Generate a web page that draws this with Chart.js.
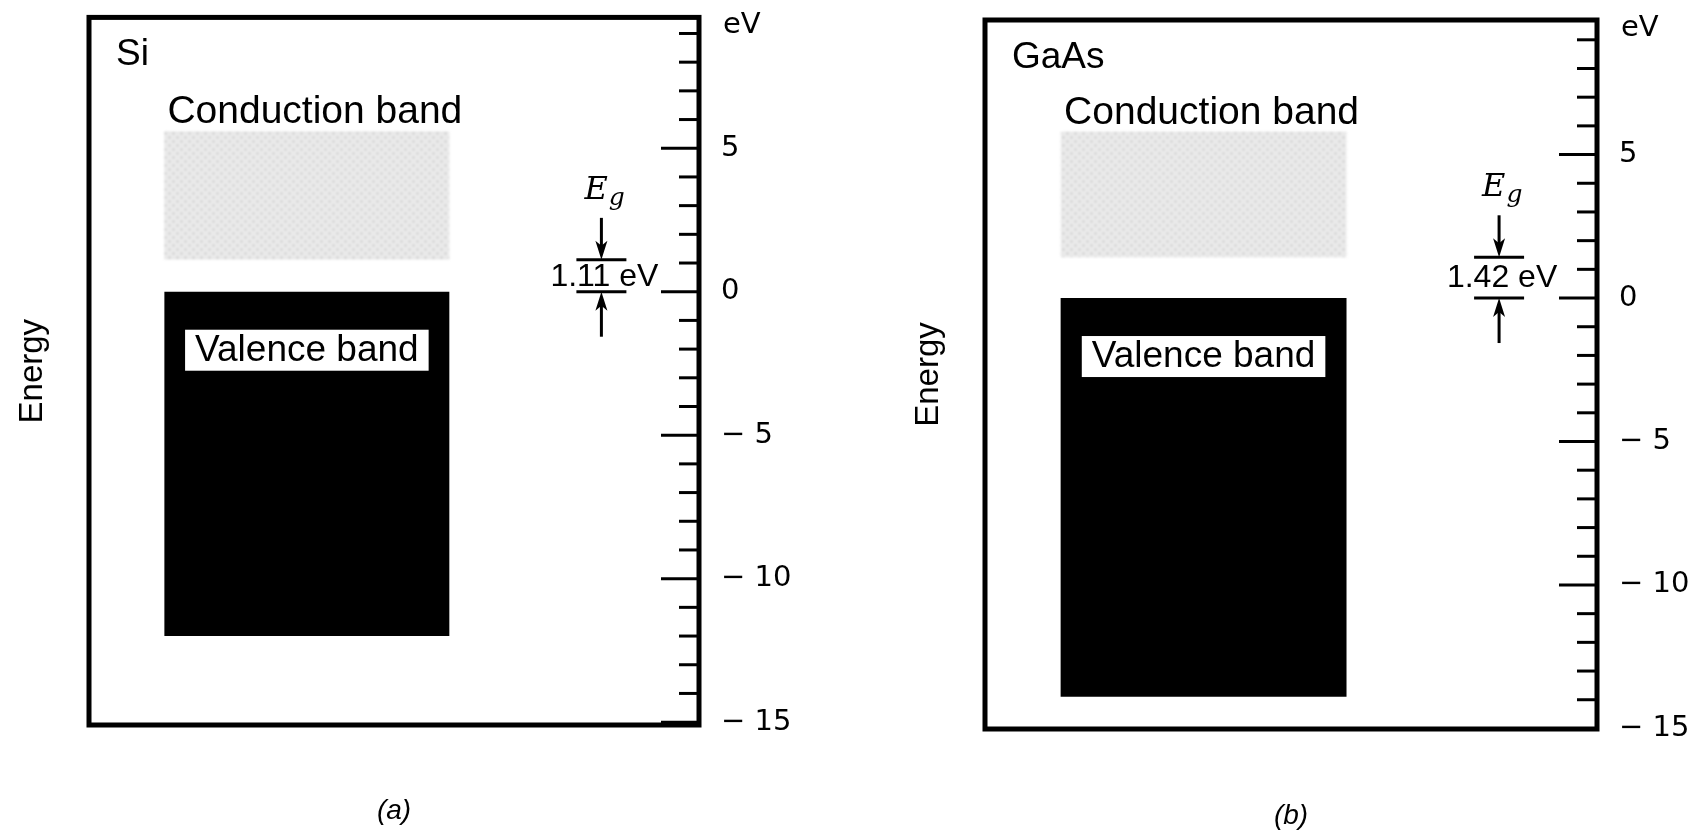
<!DOCTYPE html>
<html>
<head>
<meta charset="utf-8">
<script src="https://cdn.jsdelivr.net/npm/chart.js@4.4.1/dist/chart.umd.min.js"></script>
<style>
  body { margin: 0; background: #fff; }
  .wrap { display: flex; width: 1698px; height: 833px; }
  .panel { height: 833px; }
</style>
</head>
<body>
<div class="wrap">
  <div class="panel"><canvas id="graficoA" width="830" height="833"></canvas></div>
  <div class="panel"><canvas id="graficoB" width="868" height="833"></canvas></div>
</div>
<script>
//materiais e legendas
var materials = ['Si', 'GaAs'];
var captions = ['(a)', '(b)'];

//bandas em eV: [base, topo]
var conductionBand = [[1.11, 5.6], [1.42, 5.8]];
var valenceBand = [[-12.0, 0], [-13.9, 0]];
var energyGap = [1.11, 1.42];
var gapLabels = ['1.11 eV', '1.42 eV'];

//limites do eixo de energia e rótulos
var axisMin = [-15.1, -15.02];
var axisMax = [9.56, 9.69];
var labeledTicks = [-15, -10, -5, 0, 5];

//colunas do eixo x (a banda fica na coluna 2)
var nSlots = 7;
var bandSlot = 2;

//layout de cada painel (px)
var layouts = [
    { left: 89, right: 31, top: 13, bottom: 108, energyPad: 13, captionPad: 5 },
    { left: 155, right: 1, top: 20, bottom: 104, energyPad: 79, captionPad: 0 }
];

Chart.defaults.font.family = 'Liberation Sans';
Chart.defaults.color = '#000';

//textura clara da banda de condução
function haze(canvas) {
    var tile = document.createElement('canvas');
    tile.width = 8; tile.height = 8;
    var g = tile.getContext('2d');
    g.fillStyle = '#f1f1f1';
    g.fillRect(0, 0, 8, 8);
    g.fillStyle = '#d6d6d6';
    g.fillRect(0, 0, 3, 3);
    g.fillRect(4, 4, 3, 3);
    g.fillStyle = '#e6e6e6';
    g.fillRect(4, 0, 3, 3);
    g.fillRect(0, 4, 3, 3);
    return canvas.getContext('2d').createPattern(tile, 'repeat');
}

function seta(ctx, x, from, to) {
    var dir = to > from ? 1 : -1;
    ctx.beginPath();
    ctx.moveTo(x, from);
    ctx.lineTo(x, to - dir * 12);
    ctx.stroke();
    ctx.beginPath();
    ctx.moveTo(x, to);
    ctx.lineTo(x - 6, to - dir * 19);
    ctx.lineTo(x, to - dir * 14);
    ctx.lineTo(x + 6, to - dir * 19);
    ctx.closePath();
    ctx.fill();
}

//moldura, marcas internas e textos do diagrama
var bandPlugin = {
    id: 'bandDiagram',
    //banda de condução borrada como no original
    beforeDatasetDraw: function(chart, args) {
        if (args.index === 0) {
            chart.ctx.save();
            chart.ctx.filter = 'blur(1px)';
        }
    },
    afterDatasetDraw: function(chart, args) {
        if (args.index === 0) chart.ctx.restore();
    },
    afterDraw: function(chart, args, opts) {
        var ctx = chart.ctx;
        var area = chart.chartArea;
        var y = chart.scales.y;
        var i = opts.index;
        ctx.save();
        ctx.strokeStyle = '#000';
        ctx.fillStyle = '#000';

        //moldura
        ctx.lineWidth = 5;
        ctx.strokeRect(area.left, area.top, area.right - area.left, area.bottom - area.top);

        //marcas do eixo para dentro
        ctx.lineWidth = 3;
        y.ticks.forEach(function(t) {
            var py = y.getPixelForValue(t.value);
            var len = labeledTicks.indexOf(t.value) >= 0 ? 38 : 20;
            ctx.beginPath();
            ctx.moveTo(area.right, py);
            ctx.lineTo(area.right - len, py);
            ctx.stroke();
        });

        //unidade
        ctx.font = '29px "DejaVu Sans"';
        ctx.textAlign = 'left';
        ctx.textBaseline = 'middle';
        ctx.fillText('eV', area.right + 24, area.top + 8);

        //material
        ctx.font = '37px "Liberation Sans"';
        ctx.textBaseline = 'alphabetic';
        ctx.fillText(materials[i], area.left + 27, area.top + 48);

        //rótulo da banda de condução
        var cb = chart.getDatasetMeta(0).data[0];
        var cbTop = Math.min(cb.y, cb.base);
        ctx.textAlign = 'center';
        ctx.font = '39px "Liberation Sans"';
        ctx.fillText('Conduction band', cb.x + 8, cbTop - 8);

        //rótulo da banda de valência
        ctx.font = '37px "Liberation Sans"';
        var vb = chart.getDatasetMeta(1).data[0];
        var vbTop = Math.min(vb.y, vb.base);
        var w = ctx.measureText('Valence band').width + 20;
        ctx.fillStyle = '#fff';
        ctx.fillRect(vb.x - w / 2, vbTop + 38, w, 41);
        ctx.fillStyle = '#000';
        ctx.textBaseline = 'middle';
        ctx.fillText('Valence band', vb.x, vbTop + 59);

        //gap de energia
        var ax = area.left + 0.84 * (area.right - area.left);
        var yTop = y.getPixelForValue(energyGap[i]);
        var yBot = y.getPixelForValue(0);
        ctx.lineWidth = 3;
        ctx.beginPath();
        ctx.moveTo(ax - 25, yTop); ctx.lineTo(ax + 25, yTop);
        ctx.moveTo(ax - 25, yBot); ctx.lineTo(ax + 25, yBot);
        ctx.stroke();
        seta(ctx, ax, yTop - 42, yTop);
        seta(ctx, ax, yBot + 45, yBot);
        ctx.font = '32px "Liberation Sans"';
        ctx.fillText(gapLabels[i], ax + 3, (yTop + yBot) / 2 + 1);

        ctx.textAlign = 'left';
        ctx.textBaseline = 'alphabetic';
        ctx.font = 'italic 32px "DejaVu Serif"';
        ctx.fillText('E', ax - 17, yTop - 61);
        var ew = ctx.measureText('E').width;
        ctx.font = 'italic 25px "DejaVu Serif"';
        ctx.fillText('g', ax - 16 + ew, yTop - 55);
        ctx.restore();
    }
};

function criarGrafico(id, i) {
    var canvas = document.getElementById(id);
    var lay = layouts[i];
    var labels = [];
    for (var k = 0; k < nSlots; k++) labels.push(k === bandSlot ? materials[i] : '');

    return new Chart(canvas, {
        type: 'bar',
        data: {
            labels: labels,
            datasets: [{
                label: 'Conduction band',
                data: [{ x: materials[i], y: conductionBand[i] }],
                backgroundColor: haze(canvas),
                borderWidth: 0,
                grouped: false,
                categoryPercentage: 1,
                barPercentage: 3.27
            }, {
                label: 'Valence band',
                data: [{ x: materials[i], y: valenceBand[i] }],
                backgroundColor: '#000',
                borderWidth: 0,
                grouped: false,
                categoryPercentage: 1,
                barPercentage: 3.27
            }]
        },
        options: {
            responsive: false,
            animation: false,
            events: [],
            layout: { padding: { left: 0, right: lay.right, top: lay.top, bottom: 0 } },
            plugins: {
                legend: { display: false },
                tooltip: { enabled: false },
                bandDiagram: { index: i }
            },
            scales: {
                x: {
                    type: 'category',
                    grid: { display: false, drawTicks: false },
                    border: { display: false },
                    ticks: { display: false },
                    title: {
                        display: true,
                        text: captions[i],
                        font: { size: 28, style: 'italic' },
                        padding: { top: 0, bottom: lay.captionPad }
                    },
                    afterFit: function(s) { s.height = lay.bottom; }
                },
                y: {
                    position: 'right',
                    min: axisMin[i],
                    max: axisMax[i],
                    bounds: 'data',
                    grid: { display: false, drawTicks: true, tickLength: 22 },
                    border: { display: false },
                    afterBuildTicks: function(s) {
                        var t = [];
                        for (var v = Math.ceil(s.min); v <= Math.floor(s.max); v++) t.push({ value: v });
                        s.ticks = t;
                    },
                    ticks: {
                        autoSkip: false,
                        padding: 0,
                        font: { family: 'DejaVu Sans', size: 29 },
                        callback: function(v) {
                            if (labeledTicks.indexOf(v) < 0) return '';
                            return v < 0 ? '\u2212 ' + (-v) : String(v);
                        }
                    },
                    afterFit: function(s) { s.width = 100; }
                },
                energia: {
                    type: 'linear',
                    position: 'left',
                    display: true,
                    grid: { display: false, drawTicks: false },
                    border: { display: false },
                    ticks: { display: false },
                    title: {
                        display: true,
                        text: 'Energy',
                        font: { size: 33 },
                        padding: { top: lay.energyPad, bottom: 0 }
                    },
                    afterFit: function(s) { s.width = lay.left; }
                }
            }
        },
        plugins: [bandPlugin]
    });
}

criarGrafico('graficoA', 0);
criarGrafico('graficoB', 1);
</script>
</body>
</html>
